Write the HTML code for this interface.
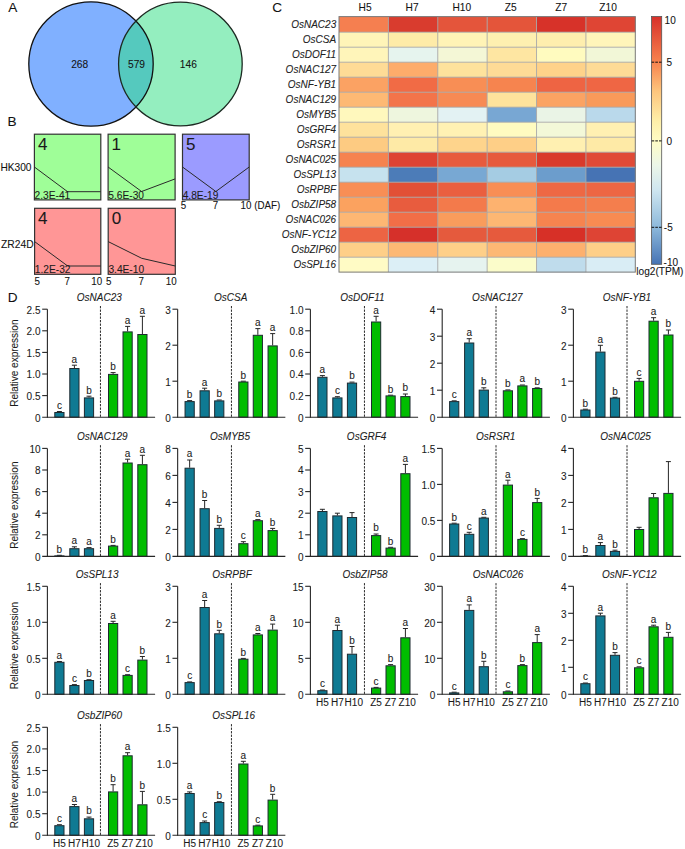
<!DOCTYPE html>
<html><head><meta charset="utf-8"><title>Figure</title>
<style>
html,body{margin:0;padding:0;background:#fff;}
body{width:685px;height:849px;overflow:hidden;}
svg{display:block;font-family:"Liberation Sans", sans-serif;}
text{stroke:#222;stroke-width:0.08px;}
</style></head>
<body>
<svg width="685" height="849" viewBox="0 0 685 849">
<rect width="685" height="849" fill="#fff"/>
<text x="8.2" y="12.2" font-size="13.6" fill="#111">A</text>
<text x="7.6" y="125.6" font-size="13.6" fill="#111">B</text>
<text x="272.3" y="12.3" font-size="13.6" fill="#111">C</text>
<text x="7.8" y="302.4" font-size="13.6" fill="#111">D</text>
<circle cx="91" cy="64" r="62.2" fill="#80b0ff"/>
<circle cx="180.4" cy="64" r="61.8" fill="#94eebf"/>
<clipPath id="cl"><circle cx="91" cy="64" r="62.2"/></clipPath>
<circle cx="180.4" cy="64" r="61.8" fill="#55c9be" clip-path="url(#cl)"/>
<circle cx="91" cy="64" r="62.2" fill="none" stroke="#111" stroke-width="1.3"/>
<circle cx="180.4" cy="64" r="61.8" fill="none" stroke="#1c2a22" stroke-width="1.3"/>
<text x="79.7" y="68.1" font-size="10.2" text-anchor="middle" fill="#111">268</text>
<text x="136.5" y="68.1" font-size="10.2" text-anchor="middle" fill="#111">579</text>
<text x="188.3" y="68.1" font-size="10.2" text-anchor="middle" fill="#111">146</text>
<rect x="34.4" y="134.2" width="66.4" height="65.7" fill="#9ffe98" stroke="#333" stroke-width="1.2"/>
<polyline points="34.4,167 67.6,191.7 100.8,191.7" fill="none" stroke="#2a2a2a" stroke-width="1"/>
<text x="37.9" y="149.5" font-size="17" fill="#1a1a1a">4</text>
<text x="34.6" y="198.8" font-size="10.2" fill="#1a1a1a">2.3E-41</text>
<rect x="108.1" y="134.2" width="67" height="65.7" fill="#9ffe98" stroke="#333" stroke-width="1.2"/>
<polyline points="108.1,167 141.6,191.5 175.1,178.9" fill="none" stroke="#2a2a2a" stroke-width="1"/>
<text x="111.6" y="149.5" font-size="17" fill="#1a1a1a">1</text>
<text x="108.3" y="198.8" font-size="10.2" fill="#1a1a1a">5.6E-30</text>
<rect x="182.5" y="134.2" width="66.7" height="65.7" fill="#9b9bff" stroke="#333" stroke-width="1.2"/>
<polyline points="182.5,167 215.85,191.5 249.2,167" fill="none" stroke="#2a2a2a" stroke-width="1"/>
<text x="186" y="149.5" font-size="17" fill="#1a1a1a">5</text>
<text x="182.7" y="198.8" font-size="10.2" fill="#1a1a1a">4.8E-19</text>
<rect x="34.6" y="208.3" width="66.2" height="66" fill="#ff9696" stroke="#333" stroke-width="1.2"/>
<polyline points="34.6,241.6 67.7,266 100.8,266" fill="none" stroke="#2a2a2a" stroke-width="1"/>
<text x="38.1" y="223.6" font-size="17" fill="#1a1a1a">4</text>
<text x="34.8" y="273.2" font-size="10.2" fill="#1a1a1a">1.2E-32</text>
<rect x="108.2" y="208.3" width="67.1" height="66" fill="#ff9696" stroke="#333" stroke-width="1.2"/>
<polyline points="108.2,241.6 141.75,258.3 175.3,266" fill="none" stroke="#2a2a2a" stroke-width="1"/>
<text x="111.7" y="223.6" font-size="17" fill="#1a1a1a">0</text>
<text x="108.4" y="273.2" font-size="10.2" fill="#1a1a1a">3.4E-10</text>
<text x="0.4" y="170.7" font-size="10.2" fill="#111">HK300</text>
<text x="1.0" y="247.6" font-size="10.3" fill="#111">ZR24D</text>
<text transform="translate(180.8,209.3) scale(1,1.18)" font-size="9.8" fill="#111">5</text>
<text transform="translate(212.7,209.3) scale(1,1.18)" font-size="9.8" fill="#111">7</text>
<text transform="translate(240.6,209.3) scale(1,1.18)" font-size="9.8" fill="#111">10 (DAF)</text>
<text transform="translate(34.4,284.8) scale(1,1.18)" font-size="9.8" fill="#111">5</text>
<text transform="translate(64.5,284.8) scale(1,1.18)" font-size="9.8" fill="#111">7</text>
<text transform="translate(91.3,284.8) scale(1,1.18)" font-size="9.8" fill="#111">10</text>
<text transform="translate(106.0,284.8) scale(1,1.18)" font-size="9.8" fill="#111">5</text>
<text transform="translate(138.6,284.8) scale(1,1.18)" font-size="9.8" fill="#111">7</text>
<text transform="translate(165.8,284.8) scale(1,1.18)" font-size="9.8" fill="#111">10</text>
<rect x="339" y="16.6" width="49.68" height="15.9" fill="#f57f50"/>
<rect x="388.38" y="16.6" width="49.68" height="15.9" fill="#d93c2e"/>
<rect x="437.77" y="16.6" width="49.68" height="15.9" fill="#e4553b"/>
<rect x="487.15" y="16.6" width="49.68" height="15.9" fill="#e4553a"/>
<rect x="536.53" y="16.6" width="49.68" height="15.9" fill="#d73229"/>
<rect x="585.92" y="16.6" width="49.68" height="15.9" fill="#df4534"/>
<rect x="339" y="32.2" width="49.68" height="15.3" fill="#fff4b8"/>
<rect x="388.38" y="32.2" width="49.68" height="15.3" fill="#feeba8"/>
<rect x="437.77" y="32.2" width="49.68" height="15.3" fill="#fff3b6"/>
<rect x="487.15" y="32.2" width="49.68" height="15.3" fill="#fef0b0"/>
<rect x="536.53" y="32.2" width="49.68" height="15.3" fill="#feeeae"/>
<rect x="585.92" y="32.2" width="49.68" height="15.3" fill="#fff5ba"/>
<rect x="339" y="47.2" width="49.68" height="15.3" fill="#fff5ba"/>
<rect x="388.38" y="47.2" width="49.68" height="15.3" fill="#e6f4ee"/>
<rect x="437.77" y="47.2" width="49.68" height="15.3" fill="#f4f7d6"/>
<rect x="487.15" y="47.2" width="49.68" height="15.3" fill="#fee6a2"/>
<rect x="536.53" y="47.2" width="49.68" height="15.3" fill="#fffbbf"/>
<rect x="585.92" y="47.2" width="49.68" height="15.3" fill="#f2f7d7"/>
<rect x="339" y="62.2" width="49.68" height="15.3" fill="#fedb96"/>
<rect x="388.38" y="62.2" width="49.68" height="15.3" fill="#fdac6b"/>
<rect x="437.77" y="62.2" width="49.68" height="15.3" fill="#fee29c"/>
<rect x="487.15" y="62.2" width="49.68" height="15.3" fill="#fedb96"/>
<rect x="536.53" y="62.2" width="49.68" height="15.3" fill="#fed28a"/>
<rect x="585.92" y="62.2" width="49.68" height="15.3" fill="#fedb96"/>
<rect x="339" y="77.2" width="49.68" height="15.3" fill="#fba263"/>
<rect x="388.38" y="77.2" width="49.68" height="15.3" fill="#f16b45"/>
<rect x="437.77" y="77.2" width="49.68" height="15.3" fill="#f88e55"/>
<rect x="487.15" y="77.2" width="49.68" height="15.3" fill="#f6844f"/>
<rect x="536.53" y="77.2" width="49.68" height="15.3" fill="#ee6443"/>
<rect x="585.92" y="77.2" width="49.68" height="15.3" fill="#ef6644"/>
<rect x="339" y="92.2" width="49.68" height="15.3" fill="#fdb974"/>
<rect x="388.38" y="92.2" width="49.68" height="15.3" fill="#f3744a"/>
<rect x="437.77" y="92.2" width="49.68" height="15.3" fill="#f78a54"/>
<rect x="487.15" y="92.2" width="49.68" height="15.3" fill="#fee39c"/>
<rect x="536.53" y="92.2" width="49.68" height="15.3" fill="#fba363"/>
<rect x="585.92" y="92.2" width="49.68" height="15.3" fill="#f99a5a"/>
<rect x="339" y="107.2" width="49.68" height="15.3" fill="#fff8bd"/>
<rect x="388.38" y="107.2" width="49.68" height="15.3" fill="#eef6de"/>
<rect x="437.77" y="107.2" width="49.68" height="15.3" fill="#e3f2f3"/>
<rect x="487.15" y="107.2" width="49.68" height="15.3" fill="#78a7d3"/>
<rect x="536.53" y="107.2" width="49.68" height="15.3" fill="#eaf4e6"/>
<rect x="585.92" y="107.2" width="49.68" height="15.3" fill="#bad9eb"/>
<rect x="339" y="122.2" width="49.68" height="15.3" fill="#fee29c"/>
<rect x="388.38" y="122.2" width="49.68" height="15.3" fill="#fff0b2"/>
<rect x="437.77" y="122.2" width="49.68" height="15.3" fill="#fff1b3"/>
<rect x="487.15" y="122.2" width="49.68" height="15.3" fill="#fffbc0"/>
<rect x="536.53" y="122.2" width="49.68" height="15.3" fill="#f3f8d8"/>
<rect x="585.92" y="122.2" width="49.68" height="15.3" fill="#fff0b2"/>
<rect x="339" y="137.2" width="49.68" height="15.3" fill="#fdcb82"/>
<rect x="388.38" y="137.2" width="49.68" height="15.3" fill="#feeaa6"/>
<rect x="437.77" y="137.2" width="49.68" height="15.3" fill="#fed48c"/>
<rect x="487.15" y="137.2" width="49.68" height="15.3" fill="#fecf87"/>
<rect x="536.53" y="137.2" width="49.68" height="15.3" fill="#fff0b1"/>
<rect x="585.92" y="137.2" width="49.68" height="15.3" fill="#feeaa6"/>
<rect x="339" y="152.2" width="49.68" height="15.3" fill="#f6834f"/>
<rect x="388.38" y="152.2" width="49.68" height="15.3" fill="#de4333"/>
<rect x="437.77" y="152.2" width="49.68" height="15.3" fill="#e75b3d"/>
<rect x="487.15" y="152.2" width="49.68" height="15.3" fill="#e65a3d"/>
<rect x="536.53" y="152.2" width="49.68" height="15.3" fill="#d93a2b"/>
<rect x="585.92" y="152.2" width="49.68" height="15.3" fill="#e04a36"/>
<rect x="339" y="167.2" width="49.68" height="15.3" fill="#c6e2ee"/>
<rect x="388.38" y="167.2" width="49.68" height="15.3" fill="#4c7cb8"/>
<rect x="437.77" y="167.2" width="49.68" height="15.3" fill="#78a8d3"/>
<rect x="487.15" y="167.2" width="49.68" height="15.3" fill="#a5cce3"/>
<rect x="536.53" y="167.2" width="49.68" height="15.3" fill="#6c9dcc"/>
<rect x="585.92" y="167.2" width="49.68" height="15.3" fill="#4673b4"/>
<rect x="339" y="182.2" width="49.68" height="15.3" fill="#f88e55"/>
<rect x="388.38" y="182.2" width="49.68" height="15.3" fill="#e25036"/>
<rect x="437.77" y="182.2" width="49.68" height="15.3" fill="#ea5f3f"/>
<rect x="487.15" y="182.2" width="49.68" height="15.3" fill="#f88e55"/>
<rect x="536.53" y="182.2" width="49.68" height="15.3" fill="#ee6844"/>
<rect x="585.92" y="182.2" width="49.68" height="15.3" fill="#ed6643"/>
<rect x="339" y="197.2" width="49.68" height="15.3" fill="#fba25f"/>
<rect x="388.38" y="197.2" width="49.68" height="15.3" fill="#e85c3e"/>
<rect x="437.77" y="197.2" width="49.68" height="15.3" fill="#f37a4b"/>
<rect x="487.15" y="197.2" width="49.68" height="15.3" fill="#fdb26f"/>
<rect x="536.53" y="197.2" width="49.68" height="15.3" fill="#f47a4b"/>
<rect x="585.92" y="197.2" width="49.68" height="15.3" fill="#f47e4d"/>
<rect x="339" y="212.2" width="49.68" height="15.3" fill="#fdb773"/>
<rect x="388.38" y="212.2" width="49.68" height="15.3" fill="#f26e47"/>
<rect x="437.77" y="212.2" width="49.68" height="15.3" fill="#f99c5c"/>
<rect x="487.15" y="212.2" width="49.68" height="15.3" fill="#fdb773"/>
<rect x="536.53" y="212.2" width="49.68" height="15.3" fill="#f6844f"/>
<rect x="585.92" y="212.2" width="49.68" height="15.3" fill="#f88b52"/>
<rect x="339" y="227.2" width="49.68" height="15.3" fill="#ed6443"/>
<rect x="388.38" y="227.2" width="49.68" height="15.3" fill="#d6302a"/>
<rect x="437.77" y="227.2" width="49.68" height="15.3" fill="#e55a3d"/>
<rect x="487.15" y="227.2" width="49.68" height="15.3" fill="#e65a3d"/>
<rect x="536.53" y="227.2" width="49.68" height="15.3" fill="#d73027"/>
<rect x="585.92" y="227.2" width="49.68" height="15.3" fill="#de4434"/>
<rect x="339" y="242.2" width="49.68" height="15.3" fill="#fecf88"/>
<rect x="388.38" y="242.2" width="49.68" height="15.3" fill="#fdb874"/>
<rect x="437.77" y="242.2" width="49.68" height="15.3" fill="#fecf88"/>
<rect x="487.15" y="242.2" width="49.68" height="15.3" fill="#fdb874"/>
<rect x="536.53" y="242.2" width="49.68" height="15.3" fill="#fdb06e"/>
<rect x="585.92" y="242.2" width="49.68" height="15.3" fill="#fecf88"/>
<rect x="339" y="257.2" width="49.68" height="15.2" fill="#fffbc5"/>
<rect x="388.38" y="257.2" width="49.68" height="15.2" fill="#dceff6"/>
<rect x="437.77" y="257.2" width="49.68" height="15.2" fill="#e6f3ef"/>
<rect x="487.15" y="257.2" width="49.68" height="15.2" fill="#fbfcca"/>
<rect x="536.53" y="257.2" width="49.68" height="15.2" fill="#bfdcec"/>
<rect x="585.92" y="257.2" width="49.68" height="15.2" fill="#d9edf5"/>
<line x1="388.38" y1="16.6" x2="388.38" y2="272.1" stroke="#a8a8a8" stroke-width="0.9"/>
<line x1="437.77" y1="16.6" x2="437.77" y2="272.1" stroke="#a8a8a8" stroke-width="0.9"/>
<line x1="487.15" y1="16.6" x2="487.15" y2="272.1" stroke="#a8a8a8" stroke-width="0.9"/>
<line x1="536.53" y1="16.6" x2="536.53" y2="272.1" stroke="#a8a8a8" stroke-width="0.9"/>
<line x1="585.92" y1="16.6" x2="585.92" y2="272.1" stroke="#a8a8a8" stroke-width="0.9"/>
<line x1="339.0" y1="32.2" x2="635.3" y2="32.2" stroke="#a8a8a8" stroke-width="0.9"/>
<line x1="339.0" y1="47.2" x2="635.3" y2="47.2" stroke="#a8a8a8" stroke-width="0.9"/>
<line x1="339.0" y1="62.2" x2="635.3" y2="62.2" stroke="#a8a8a8" stroke-width="0.9"/>
<line x1="339.0" y1="77.2" x2="635.3" y2="77.2" stroke="#a8a8a8" stroke-width="0.9"/>
<line x1="339.0" y1="92.2" x2="635.3" y2="92.2" stroke="#a8a8a8" stroke-width="0.9"/>
<line x1="339.0" y1="107.2" x2="635.3" y2="107.2" stroke="#a8a8a8" stroke-width="0.9"/>
<line x1="339.0" y1="122.2" x2="635.3" y2="122.2" stroke="#a8a8a8" stroke-width="0.9"/>
<line x1="339.0" y1="137.2" x2="635.3" y2="137.2" stroke="#a8a8a8" stroke-width="0.9"/>
<line x1="339.0" y1="152.2" x2="635.3" y2="152.2" stroke="#a8a8a8" stroke-width="0.9"/>
<line x1="339.0" y1="167.2" x2="635.3" y2="167.2" stroke="#a8a8a8" stroke-width="0.9"/>
<line x1="339.0" y1="182.2" x2="635.3" y2="182.2" stroke="#a8a8a8" stroke-width="0.9"/>
<line x1="339.0" y1="197.2" x2="635.3" y2="197.2" stroke="#a8a8a8" stroke-width="0.9"/>
<line x1="339.0" y1="212.2" x2="635.3" y2="212.2" stroke="#a8a8a8" stroke-width="0.9"/>
<line x1="339.0" y1="227.2" x2="635.3" y2="227.2" stroke="#a8a8a8" stroke-width="0.9"/>
<line x1="339.0" y1="242.2" x2="635.3" y2="242.2" stroke="#a8a8a8" stroke-width="0.9"/>
<line x1="339.0" y1="257.2" x2="635.3" y2="257.2" stroke="#a8a8a8" stroke-width="0.9"/>
<rect x="339.0" y="16.6" width="296.3" height="255.5" fill="none" stroke="#7a7a7a" stroke-width="1"/>
<text x="336.2" y="28.1" font-size="10" font-style="italic" text-anchor="end" fill="#222">OsNAC23</text>
<text x="336.2" y="43.4" font-size="10" font-style="italic" text-anchor="end" fill="#222">OsCSA</text>
<text x="336.2" y="58.4" font-size="10" font-style="italic" text-anchor="end" fill="#222">OsDOF11</text>
<text x="336.2" y="73.4" font-size="10" font-style="italic" text-anchor="end" fill="#222">OsNAC127</text>
<text x="336.2" y="88.4" font-size="10" font-style="italic" text-anchor="end" fill="#222">OsNF-YB1</text>
<text x="336.2" y="103.4" font-size="10" font-style="italic" text-anchor="end" fill="#222">OsNAC129</text>
<text x="336.2" y="118.4" font-size="10" font-style="italic" text-anchor="end" fill="#222">OsMYB5</text>
<text x="336.2" y="133.4" font-size="10" font-style="italic" text-anchor="end" fill="#222">OsGRF4</text>
<text x="336.2" y="148.4" font-size="10" font-style="italic" text-anchor="end" fill="#222">OsRSR1</text>
<text x="336.2" y="163.4" font-size="10" font-style="italic" text-anchor="end" fill="#222">OsNAC025</text>
<text x="336.2" y="178.4" font-size="10" font-style="italic" text-anchor="end" fill="#222">OsSPL13</text>
<text x="336.2" y="193.4" font-size="10" font-style="italic" text-anchor="end" fill="#222">OsRPBF</text>
<text x="336.2" y="208.4" font-size="10" font-style="italic" text-anchor="end" fill="#222">OsbZIP58</text>
<text x="336.2" y="223.4" font-size="10" font-style="italic" text-anchor="end" fill="#222">OsNAC026</text>
<text x="336.2" y="238.4" font-size="10" font-style="italic" text-anchor="end" fill="#222">OsNF-YC12</text>
<text x="336.2" y="253.4" font-size="10" font-style="italic" text-anchor="end" fill="#222">OsbZIP60</text>
<text x="336.2" y="268.35" font-size="10" font-style="italic" text-anchor="end" fill="#222">OsSPL16</text>
<text x="365.09" y="11.0" font-size="10.2" text-anchor="middle" fill="#111">H5</text>
<text x="412.07" y="11.0" font-size="10.2" text-anchor="middle" fill="#111">H7</text>
<text x="461.76" y="11.0" font-size="10.2" text-anchor="middle" fill="#111">H10</text>
<text x="510.74" y="11.0" font-size="10.2" text-anchor="middle" fill="#111">Z5</text>
<text x="561.22" y="11.0" font-size="10.2" text-anchor="middle" fill="#111">Z7</text>
<text x="608.11" y="11.0" font-size="10.2" text-anchor="middle" fill="#111">Z10</text>
<linearGradient id="cb" x1="0" y1="16.5" x2="0" y2="264.3" gradientUnits="userSpaceOnUse"><stop offset="0" stop-color="#d7302a"/><stop offset="0.183" stop-color="#f7824e"/><stop offset="0.30" stop-color="#fdc47c"/><stop offset="0.42" stop-color="#feeea8"/><stop offset="0.50" stop-color="#fffcc4"/><stop offset="0.60" stop-color="#ecf6e8"/><stop offset="0.70" stop-color="#cfe6f0"/><stop offset="0.85" stop-color="#8db9db"/><stop offset="1" stop-color="#4673b4"/></linearGradient>
<rect x="651.6" y="16.5" width="10.1" height="247.8" fill="url(#cb)" stroke="#555" stroke-width="0.8"/>
<line x1="651.6" y1="62.2" x2="661.7" y2="62.2" stroke="#111" stroke-width="1" stroke-dasharray="2.6,1.1"/>
<line x1="651.6" y1="140.9" x2="661.7" y2="140.9" stroke="#111" stroke-width="1" stroke-dasharray="2.6,1.1"/>
<line x1="651.6" y1="227.3" x2="661.7" y2="227.3" stroke="#111" stroke-width="1" stroke-dasharray="2.6,1.1"/>
<text x="664.6" y="24" font-size="10" fill="#111">10</text>
<text x="666.6" y="66.2" font-size="10" fill="#111">5</text>
<text x="666.6" y="144.9" font-size="10" fill="#111">0</text>
<text x="663.8" y="231.2" font-size="10" fill="#111">-5</text>
<text x="663.6" y="266" font-size="10" fill="#111">-10</text>
<text x="636.3" y="274.9" font-size="10.1" fill="#111">log2(TPM)</text>
<line x1="56.9" y1="411.5" x2="61.9" y2="411.5" stroke="#262626" stroke-width="1"/>
<rect x="54.8" y="412.5" width="9.2" height="4.7" fill="#0f7a93" stroke="#1d2a30" stroke-width="1"/>
<text x="59.4" y="408.8" font-size="10" text-anchor="middle" fill="#1a1a1a">c</text>
<line x1="74.4" y1="368" x2="74.4" y2="365.2" stroke="#262626" stroke-width="1"/>
<line x1="71.9" y1="365.2" x2="76.9" y2="365.2" stroke="#262626" stroke-width="1"/>
<rect x="69.8" y="368.5" width="9.2" height="48.7" fill="#0f7a93" stroke="#1d2a30" stroke-width="1"/>
<text x="74.4" y="362.5" font-size="10" text-anchor="middle" fill="#1a1a1a">a</text>
<line x1="89" y1="397.4" x2="89" y2="396.2" stroke="#262626" stroke-width="1"/>
<line x1="86.5" y1="396.2" x2="91.5" y2="396.2" stroke="#262626" stroke-width="1"/>
<rect x="84.4" y="397.9" width="9.2" height="19.3" fill="#0f7a93" stroke="#1d2a30" stroke-width="1"/>
<text x="89" y="393.5" font-size="10" text-anchor="middle" fill="#1a1a1a">b</text>
<line x1="113.1" y1="373.9" x2="113.1" y2="372.6" stroke="#262626" stroke-width="1"/>
<line x1="110.6" y1="372.6" x2="115.6" y2="372.6" stroke="#262626" stroke-width="1"/>
<rect x="108.5" y="374.4" width="9.2" height="42.8" fill="#00bd00" stroke="#1d2a30" stroke-width="1"/>
<text x="113.1" y="369.9" font-size="10" text-anchor="middle" fill="#1a1a1a">b</text>
<line x1="127.6" y1="331.4" x2="127.6" y2="326.4" stroke="#262626" stroke-width="1"/>
<line x1="125.1" y1="326.4" x2="130.1" y2="326.4" stroke="#262626" stroke-width="1"/>
<rect x="123" y="331.9" width="9.2" height="85.3" fill="#00bd00" stroke="#1d2a30" stroke-width="1"/>
<text x="127.6" y="323.7" font-size="10" text-anchor="middle" fill="#1a1a1a">a</text>
<line x1="142.4" y1="334" x2="142.4" y2="316.3" stroke="#262626" stroke-width="1"/>
<line x1="139.9" y1="316.3" x2="144.9" y2="316.3" stroke="#262626" stroke-width="1"/>
<rect x="137.8" y="334.5" width="9.2" height="82.7" fill="#00bd00" stroke="#1d2a30" stroke-width="1"/>
<text x="142.4" y="313.6" font-size="10" text-anchor="middle" fill="#1a1a1a">a</text>
<line x1="100.45" y1="306" x2="100.45" y2="417.2" stroke="#2a2a2a" stroke-width="1" stroke-dasharray="2.3,1.2"/>
<line x1="47.4" y1="309.2" x2="47.4" y2="417.7" stroke="#262626" stroke-width="1.1"/>
<line x1="42.2" y1="417.2" x2="155.1" y2="417.2" stroke="#262626" stroke-width="1.1"/>
<text x="40.5" y="421.5" font-size="10" text-anchor="end" fill="#1a1a1a">0</text>
<line x1="42.2" y1="395.6" x2="47.4" y2="395.6" stroke="#262626" stroke-width="1.1"/>
<text x="40.5" y="399.9" font-size="10" text-anchor="end" fill="#1a1a1a">0.5</text>
<line x1="42.2" y1="374" x2="47.4" y2="374" stroke="#262626" stroke-width="1.1"/>
<text x="40.5" y="378.3" font-size="10" text-anchor="end" fill="#1a1a1a">1.0</text>
<line x1="42.2" y1="352.4" x2="47.4" y2="352.4" stroke="#262626" stroke-width="1.1"/>
<text x="40.5" y="356.7" font-size="10" text-anchor="end" fill="#1a1a1a">1.5</text>
<line x1="42.2" y1="330.8" x2="47.4" y2="330.8" stroke="#262626" stroke-width="1.1"/>
<text x="40.5" y="335.1" font-size="10" text-anchor="end" fill="#1a1a1a">2.0</text>
<line x1="42.2" y1="309.2" x2="47.4" y2="309.2" stroke="#262626" stroke-width="1.1"/>
<text x="40.5" y="313.5" font-size="10" text-anchor="end" fill="#1a1a1a">2.5</text>
<text x="99.3" y="300.6" font-size="10" font-style="italic" text-anchor="middle" fill="#1a1a1a">OsNAC23</text>
<text transform="translate(17.8,363.2) rotate(-90)" font-size="10" text-anchor="middle" fill="#1a1a1a">Relative expression</text>
<line x1="187.15" y1="400.6" x2="192.15" y2="400.6" stroke="#262626" stroke-width="1"/>
<rect x="185.05" y="401.6" width="9.2" height="15.6" fill="#0f7a93" stroke="#1d2a30" stroke-width="1"/>
<text x="189.65" y="397.9" font-size="10" text-anchor="middle" fill="#1a1a1a">b</text>
<line x1="204.65" y1="390.3" x2="204.65" y2="388.2" stroke="#262626" stroke-width="1"/>
<line x1="202.15" y1="388.2" x2="207.15" y2="388.2" stroke="#262626" stroke-width="1"/>
<rect x="200.05" y="390.8" width="9.2" height="26.4" fill="#0f7a93" stroke="#1d2a30" stroke-width="1"/>
<text x="204.65" y="385.5" font-size="10" text-anchor="middle" fill="#1a1a1a">a</text>
<line x1="216.75" y1="400" x2="221.75" y2="400" stroke="#262626" stroke-width="1"/>
<rect x="214.65" y="400.9" width="9.2" height="16.3" fill="#0f7a93" stroke="#1d2a30" stroke-width="1"/>
<text x="219.25" y="397.3" font-size="10" text-anchor="middle" fill="#1a1a1a">b</text>
<line x1="240.85" y1="381.2" x2="245.85" y2="381.2" stroke="#262626" stroke-width="1"/>
<rect x="238.75" y="382" width="9.2" height="35.2" fill="#00bd00" stroke="#1d2a30" stroke-width="1"/>
<text x="243.35" y="378.5" font-size="10" text-anchor="middle" fill="#1a1a1a">b</text>
<line x1="257.85" y1="334.8" x2="257.85" y2="328.6" stroke="#262626" stroke-width="1"/>
<line x1="255.35" y1="328.6" x2="260.35" y2="328.6" stroke="#262626" stroke-width="1"/>
<rect x="253.25" y="335.3" width="9.2" height="81.9" fill="#00bd00" stroke="#1d2a30" stroke-width="1"/>
<text x="257.85" y="325.9" font-size="10" text-anchor="middle" fill="#1a1a1a">a</text>
<line x1="272.65" y1="345.4" x2="272.65" y2="333.6" stroke="#262626" stroke-width="1"/>
<line x1="270.15" y1="333.6" x2="275.15" y2="333.6" stroke="#262626" stroke-width="1"/>
<rect x="268.05" y="345.9" width="9.2" height="71.3" fill="#00bd00" stroke="#1d2a30" stroke-width="1"/>
<text x="272.65" y="330.9" font-size="10" text-anchor="middle" fill="#1a1a1a">a</text>
<line x1="231.45" y1="306" x2="231.45" y2="417.2" stroke="#2a2a2a" stroke-width="1" stroke-dasharray="2.3,1.2"/>
<line x1="177.65" y1="309.2" x2="177.65" y2="417.7" stroke="#262626" stroke-width="1.1"/>
<line x1="172.45" y1="417.2" x2="285.35" y2="417.2" stroke="#262626" stroke-width="1.1"/>
<text x="170.75" y="421.5" font-size="10" text-anchor="end" fill="#1a1a1a">0</text>
<line x1="172.45" y1="381.2" x2="177.65" y2="381.2" stroke="#262626" stroke-width="1.1"/>
<text x="170.75" y="385.5" font-size="10" text-anchor="end" fill="#1a1a1a">1</text>
<line x1="172.45" y1="345.2" x2="177.65" y2="345.2" stroke="#262626" stroke-width="1.1"/>
<text x="170.75" y="349.5" font-size="10" text-anchor="end" fill="#1a1a1a">2</text>
<line x1="172.45" y1="309.2" x2="177.65" y2="309.2" stroke="#262626" stroke-width="1.1"/>
<text x="170.75" y="313.5" font-size="10" text-anchor="end" fill="#1a1a1a">3</text>
<text x="230.75" y="300.6" font-size="10" font-style="italic" text-anchor="middle" fill="#1a1a1a">OsCSA</text>
<line x1="322.4" y1="376.8" x2="322.4" y2="375.6" stroke="#262626" stroke-width="1"/>
<line x1="319.9" y1="375.6" x2="324.9" y2="375.6" stroke="#262626" stroke-width="1"/>
<rect x="317.8" y="377.3" width="9.2" height="39.9" fill="#0f7a93" stroke="#1d2a30" stroke-width="1"/>
<text x="322.4" y="372.9" font-size="10" text-anchor="middle" fill="#1a1a1a">a</text>
<line x1="337.4" y1="397.4" x2="337.4" y2="396.7" stroke="#262626" stroke-width="1"/>
<line x1="334.9" y1="396.7" x2="339.9" y2="396.7" stroke="#262626" stroke-width="1"/>
<rect x="332.8" y="397.9" width="9.2" height="19.3" fill="#0f7a93" stroke="#1d2a30" stroke-width="1"/>
<text x="337.4" y="394" font-size="10" text-anchor="middle" fill="#1a1a1a">c</text>
<line x1="349.5" y1="382.1" x2="354.5" y2="382.1" stroke="#262626" stroke-width="1"/>
<rect x="347.4" y="383.1" width="9.2" height="34.1" fill="#0f7a93" stroke="#1d2a30" stroke-width="1"/>
<text x="352" y="379.4" font-size="10" text-anchor="middle" fill="#1a1a1a">b</text>
<line x1="376.1" y1="321.5" x2="376.1" y2="316.3" stroke="#262626" stroke-width="1"/>
<line x1="373.6" y1="316.3" x2="378.6" y2="316.3" stroke="#262626" stroke-width="1"/>
<rect x="371.5" y="322" width="9.2" height="95.2" fill="#00bd00" stroke="#1d2a30" stroke-width="1"/>
<text x="376.1" y="313.6" font-size="10" text-anchor="middle" fill="#1a1a1a">a</text>
<line x1="388.1" y1="395.2" x2="393.1" y2="395.2" stroke="#262626" stroke-width="1"/>
<rect x="386" y="395.9" width="9.2" height="21.3" fill="#00bd00" stroke="#1d2a30" stroke-width="1"/>
<text x="390.6" y="392.5" font-size="10" text-anchor="middle" fill="#1a1a1a">b</text>
<line x1="405.4" y1="396.1" x2="405.4" y2="394" stroke="#262626" stroke-width="1"/>
<line x1="402.9" y1="394" x2="407.9" y2="394" stroke="#262626" stroke-width="1"/>
<rect x="400.8" y="396.6" width="9.2" height="20.6" fill="#00bd00" stroke="#1d2a30" stroke-width="1"/>
<text x="405.4" y="391.3" font-size="10" text-anchor="middle" fill="#1a1a1a">b</text>
<line x1="364.45" y1="306" x2="364.45" y2="417.2" stroke="#2a2a2a" stroke-width="1" stroke-dasharray="2.3,1.2"/>
<line x1="310.4" y1="309.2" x2="310.4" y2="417.7" stroke="#262626" stroke-width="1.1"/>
<line x1="305.2" y1="417.2" x2="418.1" y2="417.2" stroke="#262626" stroke-width="1.1"/>
<text x="303.5" y="421.5" font-size="10" text-anchor="end" fill="#1a1a1a">0</text>
<line x1="305.2" y1="395.6" x2="310.4" y2="395.6" stroke="#262626" stroke-width="1.1"/>
<text x="303.5" y="399.9" font-size="10" text-anchor="end" fill="#1a1a1a">0.2</text>
<line x1="305.2" y1="374" x2="310.4" y2="374" stroke="#262626" stroke-width="1.1"/>
<text x="303.5" y="378.3" font-size="10" text-anchor="end" fill="#1a1a1a">0.4</text>
<line x1="305.2" y1="352.4" x2="310.4" y2="352.4" stroke="#262626" stroke-width="1.1"/>
<text x="303.5" y="356.7" font-size="10" text-anchor="end" fill="#1a1a1a">0.6</text>
<line x1="305.2" y1="330.8" x2="310.4" y2="330.8" stroke="#262626" stroke-width="1.1"/>
<text x="303.5" y="335.1" font-size="10" text-anchor="end" fill="#1a1a1a">0.8</text>
<line x1="305.2" y1="309.2" x2="310.4" y2="309.2" stroke="#262626" stroke-width="1.1"/>
<text x="303.5" y="313.5" font-size="10" text-anchor="end" fill="#1a1a1a">1.0</text>
<text x="362.4" y="300.6" font-size="10" font-style="italic" text-anchor="middle" fill="#1a1a1a">OsDOF11</text>
<line x1="451.7" y1="400.8" x2="456.7" y2="400.8" stroke="#262626" stroke-width="1"/>
<rect x="449.6" y="401.6" width="9.2" height="15.6" fill="#0f7a93" stroke="#1d2a30" stroke-width="1"/>
<text x="454.2" y="398.1" font-size="10" text-anchor="middle" fill="#1a1a1a">c</text>
<line x1="469.2" y1="342.5" x2="469.2" y2="338.7" stroke="#262626" stroke-width="1"/>
<line x1="466.7" y1="338.7" x2="471.7" y2="338.7" stroke="#262626" stroke-width="1"/>
<rect x="464.6" y="343" width="9.2" height="74.2" fill="#0f7a93" stroke="#1d2a30" stroke-width="1"/>
<text x="469.2" y="336" font-size="10" text-anchor="middle" fill="#1a1a1a">a</text>
<line x1="483.8" y1="389.6" x2="483.8" y2="387.8" stroke="#262626" stroke-width="1"/>
<line x1="481.3" y1="387.8" x2="486.3" y2="387.8" stroke="#262626" stroke-width="1"/>
<rect x="479.2" y="390.1" width="9.2" height="27.1" fill="#0f7a93" stroke="#1d2a30" stroke-width="1"/>
<text x="483.8" y="385.1" font-size="10" text-anchor="middle" fill="#1a1a1a">b</text>
<line x1="505.4" y1="389.9" x2="510.4" y2="389.9" stroke="#262626" stroke-width="1"/>
<rect x="503.3" y="390.8" width="9.2" height="26.4" fill="#00bd00" stroke="#1d2a30" stroke-width="1"/>
<text x="507.9" y="387.2" font-size="10" text-anchor="middle" fill="#1a1a1a">b</text>
<line x1="519.9" y1="385" x2="524.9" y2="385" stroke="#262626" stroke-width="1"/>
<rect x="517.8" y="385.9" width="9.2" height="31.3" fill="#00bd00" stroke="#1d2a30" stroke-width="1"/>
<text x="522.4" y="382.3" font-size="10" text-anchor="middle" fill="#1a1a1a">a</text>
<line x1="534.7" y1="387.8" x2="539.7" y2="387.8" stroke="#262626" stroke-width="1"/>
<rect x="532.6" y="388.5" width="9.2" height="28.7" fill="#00bd00" stroke="#1d2a30" stroke-width="1"/>
<text x="537.2" y="385.1" font-size="10" text-anchor="middle" fill="#1a1a1a">b</text>
<line x1="496" y1="306" x2="496" y2="417.2" stroke="#2a2a2a" stroke-width="1" stroke-dasharray="2.3,1.2"/>
<line x1="442.2" y1="309.2" x2="442.2" y2="417.7" stroke="#262626" stroke-width="1.1"/>
<line x1="437" y1="417.2" x2="549.9" y2="417.2" stroke="#262626" stroke-width="1.1"/>
<text x="435.3" y="421.5" font-size="10" text-anchor="end" fill="#1a1a1a">0</text>
<line x1="437" y1="390.2" x2="442.2" y2="390.2" stroke="#262626" stroke-width="1.1"/>
<text x="435.3" y="394.5" font-size="10" text-anchor="end" fill="#1a1a1a">1</text>
<line x1="437" y1="363.2" x2="442.2" y2="363.2" stroke="#262626" stroke-width="1.1"/>
<text x="435.3" y="367.5" font-size="10" text-anchor="end" fill="#1a1a1a">2</text>
<line x1="437" y1="336.2" x2="442.2" y2="336.2" stroke="#262626" stroke-width="1.1"/>
<text x="435.3" y="340.5" font-size="10" text-anchor="end" fill="#1a1a1a">3</text>
<line x1="437" y1="309.2" x2="442.2" y2="309.2" stroke="#262626" stroke-width="1.1"/>
<text x="435.3" y="313.5" font-size="10" text-anchor="end" fill="#1a1a1a">4</text>
<text x="497.4" y="300.6" font-size="10" font-style="italic" text-anchor="middle" fill="#1a1a1a">OsNAC127</text>
<line x1="582.9" y1="409.2" x2="587.9" y2="409.2" stroke="#262626" stroke-width="1"/>
<rect x="580.8" y="410" width="9.2" height="7.2" fill="#0f7a93" stroke="#1d2a30" stroke-width="1"/>
<text x="585.4" y="406.5" font-size="10" text-anchor="middle" fill="#1a1a1a">b</text>
<line x1="600.4" y1="351.6" x2="600.4" y2="345.3" stroke="#262626" stroke-width="1"/>
<line x1="597.9" y1="345.3" x2="602.9" y2="345.3" stroke="#262626" stroke-width="1"/>
<rect x="595.8" y="352.1" width="9.2" height="65.1" fill="#0f7a93" stroke="#1d2a30" stroke-width="1"/>
<text x="600.4" y="342.6" font-size="10" text-anchor="middle" fill="#1a1a1a">a</text>
<line x1="612.5" y1="397.3" x2="617.5" y2="397.3" stroke="#262626" stroke-width="1"/>
<rect x="610.4" y="398.1" width="9.2" height="19.1" fill="#0f7a93" stroke="#1d2a30" stroke-width="1"/>
<text x="615" y="394.6" font-size="10" text-anchor="middle" fill="#1a1a1a">b</text>
<line x1="639.1" y1="380.8" x2="639.1" y2="378.4" stroke="#262626" stroke-width="1"/>
<line x1="636.6" y1="378.4" x2="641.6" y2="378.4" stroke="#262626" stroke-width="1"/>
<rect x="634.5" y="381.3" width="9.2" height="35.9" fill="#00bd00" stroke="#1d2a30" stroke-width="1"/>
<text x="639.1" y="375.7" font-size="10" text-anchor="middle" fill="#1a1a1a">c</text>
<line x1="653.6" y1="320.7" x2="653.6" y2="317.7" stroke="#262626" stroke-width="1"/>
<line x1="651.1" y1="317.7" x2="656.1" y2="317.7" stroke="#262626" stroke-width="1"/>
<rect x="649" y="321.2" width="9.2" height="96" fill="#00bd00" stroke="#1d2a30" stroke-width="1"/>
<text x="653.6" y="315" font-size="10" text-anchor="middle" fill="#1a1a1a">a</text>
<line x1="668.4" y1="334.5" x2="668.4" y2="330" stroke="#262626" stroke-width="1"/>
<line x1="665.9" y1="330" x2="670.9" y2="330" stroke="#262626" stroke-width="1"/>
<rect x="663.8" y="335" width="9.2" height="82.2" fill="#00bd00" stroke="#1d2a30" stroke-width="1"/>
<text x="668.4" y="327.3" font-size="10" text-anchor="middle" fill="#1a1a1a">b</text>
<line x1="627" y1="306" x2="627" y2="417.2" stroke="#2a2a2a" stroke-width="1" stroke-dasharray="2.3,1.2"/>
<line x1="573.4" y1="309.2" x2="573.4" y2="417.7" stroke="#262626" stroke-width="1.1"/>
<line x1="568.2" y1="417.2" x2="681.1" y2="417.2" stroke="#262626" stroke-width="1.1"/>
<text x="566.5" y="421.5" font-size="10" text-anchor="end" fill="#1a1a1a">0</text>
<line x1="568.2" y1="381.2" x2="573.4" y2="381.2" stroke="#262626" stroke-width="1.1"/>
<text x="566.5" y="385.5" font-size="10" text-anchor="end" fill="#1a1a1a">1</text>
<line x1="568.2" y1="345.2" x2="573.4" y2="345.2" stroke="#262626" stroke-width="1.1"/>
<text x="566.5" y="349.5" font-size="10" text-anchor="end" fill="#1a1a1a">2</text>
<line x1="568.2" y1="309.2" x2="573.4" y2="309.2" stroke="#262626" stroke-width="1.1"/>
<text x="566.5" y="313.5" font-size="10" text-anchor="end" fill="#1a1a1a">3</text>
<text x="627" y="300.6" font-size="10" font-style="italic" text-anchor="middle" fill="#1a1a1a">OsNF-YB1</text>
<line x1="56.9" y1="555.3" x2="61.9" y2="555.3" stroke="#262626" stroke-width="1"/>
<rect x="54.8" y="555.9" width="9.2" height="0.5" fill="#0f7a93" stroke="#1d2a30" stroke-width="1"/>
<text x="59.4" y="552.6" font-size="10" text-anchor="middle" fill="#1a1a1a">b</text>
<line x1="74.4" y1="548.2" x2="74.4" y2="546.8" stroke="#262626" stroke-width="1"/>
<line x1="71.9" y1="546.8" x2="76.9" y2="546.8" stroke="#262626" stroke-width="1"/>
<rect x="69.8" y="548.7" width="9.2" height="7.7" fill="#0f7a93" stroke="#1d2a30" stroke-width="1"/>
<text x="74.4" y="544.1" font-size="10" text-anchor="middle" fill="#1a1a1a">a</text>
<line x1="86.5" y1="547.6" x2="91.5" y2="547.6" stroke="#262626" stroke-width="1"/>
<rect x="84.4" y="548.7" width="9.2" height="7.7" fill="#0f7a93" stroke="#1d2a30" stroke-width="1"/>
<text x="89" y="544.9" font-size="10" text-anchor="middle" fill="#1a1a1a">a</text>
<line x1="110.6" y1="545.4" x2="115.6" y2="545.4" stroke="#262626" stroke-width="1"/>
<rect x="108.5" y="546.1" width="9.2" height="10.3" fill="#00bd00" stroke="#1d2a30" stroke-width="1"/>
<text x="113.1" y="542.7" font-size="10" text-anchor="middle" fill="#1a1a1a">b</text>
<line x1="127.6" y1="462.5" x2="127.6" y2="459.2" stroke="#262626" stroke-width="1"/>
<line x1="125.1" y1="459.2" x2="130.1" y2="459.2" stroke="#262626" stroke-width="1"/>
<rect x="123" y="463" width="9.2" height="93.4" fill="#00bd00" stroke="#1d2a30" stroke-width="1"/>
<text x="127.6" y="456.5" font-size="10" text-anchor="middle" fill="#1a1a1a">a</text>
<line x1="142.4" y1="464.2" x2="142.4" y2="455.3" stroke="#262626" stroke-width="1"/>
<line x1="139.9" y1="455.3" x2="144.9" y2="455.3" stroke="#262626" stroke-width="1"/>
<rect x="137.8" y="464.7" width="9.2" height="91.7" fill="#00bd00" stroke="#1d2a30" stroke-width="1"/>
<text x="142.4" y="452.6" font-size="10" text-anchor="middle" fill="#1a1a1a">a</text>
<line x1="100.45" y1="445.2" x2="100.45" y2="556.4" stroke="#2a2a2a" stroke-width="1" stroke-dasharray="2.3,1.2"/>
<line x1="47.4" y1="448.4" x2="47.4" y2="556.9" stroke="#262626" stroke-width="1.1"/>
<line x1="42.2" y1="556.4" x2="155.1" y2="556.4" stroke="#262626" stroke-width="1.1"/>
<text x="40.5" y="560.7" font-size="10" text-anchor="end" fill="#1a1a1a">0</text>
<line x1="42.2" y1="534.8" x2="47.4" y2="534.8" stroke="#262626" stroke-width="1.1"/>
<text x="40.5" y="539.1" font-size="10" text-anchor="end" fill="#1a1a1a">2</text>
<line x1="42.2" y1="513.2" x2="47.4" y2="513.2" stroke="#262626" stroke-width="1.1"/>
<text x="40.5" y="517.5" font-size="10" text-anchor="end" fill="#1a1a1a">4</text>
<line x1="42.2" y1="491.6" x2="47.4" y2="491.6" stroke="#262626" stroke-width="1.1"/>
<text x="40.5" y="495.9" font-size="10" text-anchor="end" fill="#1a1a1a">6</text>
<line x1="42.2" y1="470" x2="47.4" y2="470" stroke="#262626" stroke-width="1.1"/>
<text x="40.5" y="474.3" font-size="10" text-anchor="end" fill="#1a1a1a">8</text>
<line x1="42.2" y1="448.4" x2="47.4" y2="448.4" stroke="#262626" stroke-width="1.1"/>
<text x="40.5" y="452.7" font-size="10" text-anchor="end" fill="#1a1a1a">10</text>
<text x="102.3" y="439.8" font-size="10" font-style="italic" text-anchor="middle" fill="#1a1a1a">OsNAC129</text>
<text transform="translate(17.8,505.2) rotate(-90)" font-size="10" text-anchor="middle" fill="#1a1a1a">Relative expression</text>
<line x1="189.65" y1="467.7" x2="189.65" y2="460" stroke="#262626" stroke-width="1"/>
<line x1="187.15" y1="460" x2="192.15" y2="460" stroke="#262626" stroke-width="1"/>
<rect x="185.05" y="468.2" width="9.2" height="88.2" fill="#0f7a93" stroke="#1d2a30" stroke-width="1"/>
<text x="189.65" y="457.3" font-size="10" text-anchor="middle" fill="#1a1a1a">a</text>
<line x1="204.65" y1="508.2" x2="204.65" y2="500.5" stroke="#262626" stroke-width="1"/>
<line x1="202.15" y1="500.5" x2="207.15" y2="500.5" stroke="#262626" stroke-width="1"/>
<rect x="200.05" y="508.7" width="9.2" height="47.7" fill="#0f7a93" stroke="#1d2a30" stroke-width="1"/>
<text x="204.65" y="497.8" font-size="10" text-anchor="middle" fill="#1a1a1a">b</text>
<line x1="219.25" y1="527.9" x2="219.25" y2="525.3" stroke="#262626" stroke-width="1"/>
<line x1="216.75" y1="525.3" x2="221.75" y2="525.3" stroke="#262626" stroke-width="1"/>
<rect x="214.65" y="528.4" width="9.2" height="28" fill="#0f7a93" stroke="#1d2a30" stroke-width="1"/>
<text x="219.25" y="522.6" font-size="10" text-anchor="middle" fill="#1a1a1a">b</text>
<line x1="243.35" y1="543.2" x2="243.35" y2="541.7" stroke="#262626" stroke-width="1"/>
<line x1="240.85" y1="541.7" x2="245.85" y2="541.7" stroke="#262626" stroke-width="1"/>
<rect x="238.75" y="543.7" width="9.2" height="12.7" fill="#00bd00" stroke="#1d2a30" stroke-width="1"/>
<text x="243.35" y="539" font-size="10" text-anchor="middle" fill="#1a1a1a">c</text>
<line x1="255.35" y1="519.6" x2="260.35" y2="519.6" stroke="#262626" stroke-width="1"/>
<rect x="253.25" y="520.7" width="9.2" height="35.7" fill="#00bd00" stroke="#1d2a30" stroke-width="1"/>
<text x="257.85" y="516.9" font-size="10" text-anchor="middle" fill="#1a1a1a">a</text>
<line x1="272.65" y1="530.1" x2="272.65" y2="528.4" stroke="#262626" stroke-width="1"/>
<line x1="270.15" y1="528.4" x2="275.15" y2="528.4" stroke="#262626" stroke-width="1"/>
<rect x="268.05" y="530.6" width="9.2" height="25.8" fill="#00bd00" stroke="#1d2a30" stroke-width="1"/>
<text x="272.65" y="525.7" font-size="10" text-anchor="middle" fill="#1a1a1a">b</text>
<line x1="231.45" y1="445.2" x2="231.45" y2="556.4" stroke="#2a2a2a" stroke-width="1" stroke-dasharray="2.3,1.2"/>
<line x1="177.65" y1="448.4" x2="177.65" y2="556.9" stroke="#262626" stroke-width="1.1"/>
<line x1="172.45" y1="556.4" x2="285.35" y2="556.4" stroke="#262626" stroke-width="1.1"/>
<text x="170.75" y="560.7" font-size="10" text-anchor="end" fill="#1a1a1a">0</text>
<line x1="172.45" y1="529.4" x2="177.65" y2="529.4" stroke="#262626" stroke-width="1.1"/>
<text x="170.75" y="533.7" font-size="10" text-anchor="end" fill="#1a1a1a">2</text>
<line x1="172.45" y1="502.4" x2="177.65" y2="502.4" stroke="#262626" stroke-width="1.1"/>
<text x="170.75" y="506.7" font-size="10" text-anchor="end" fill="#1a1a1a">4</text>
<line x1="172.45" y1="475.4" x2="177.65" y2="475.4" stroke="#262626" stroke-width="1.1"/>
<text x="170.75" y="479.7" font-size="10" text-anchor="end" fill="#1a1a1a">6</text>
<line x1="172.45" y1="448.4" x2="177.65" y2="448.4" stroke="#262626" stroke-width="1.1"/>
<text x="170.75" y="452.7" font-size="10" text-anchor="end" fill="#1a1a1a">8</text>
<text x="230.05" y="439.8" font-size="10" font-style="italic" text-anchor="middle" fill="#1a1a1a">OsMYB5</text>
<line x1="322.4" y1="511" x2="322.4" y2="509.3" stroke="#262626" stroke-width="1"/>
<line x1="319.9" y1="509.3" x2="324.9" y2="509.3" stroke="#262626" stroke-width="1"/>
<rect x="317.8" y="511.5" width="9.2" height="44.9" fill="#0f7a93" stroke="#1d2a30" stroke-width="1"/>
<line x1="337.4" y1="515.4" x2="337.4" y2="513.2" stroke="#262626" stroke-width="1"/>
<line x1="334.9" y1="513.2" x2="339.9" y2="513.2" stroke="#262626" stroke-width="1"/>
<rect x="332.8" y="515.9" width="9.2" height="40.5" fill="#0f7a93" stroke="#1d2a30" stroke-width="1"/>
<line x1="352" y1="517" x2="352" y2="512.6" stroke="#262626" stroke-width="1"/>
<line x1="349.5" y1="512.6" x2="354.5" y2="512.6" stroke="#262626" stroke-width="1"/>
<rect x="347.4" y="517.5" width="9.2" height="38.9" fill="#0f7a93" stroke="#1d2a30" stroke-width="1"/>
<line x1="376.1" y1="535.1" x2="376.1" y2="534" stroke="#262626" stroke-width="1"/>
<line x1="373.6" y1="534" x2="378.6" y2="534" stroke="#262626" stroke-width="1"/>
<rect x="371.5" y="535.6" width="9.2" height="20.8" fill="#00bd00" stroke="#1d2a30" stroke-width="1"/>
<text x="376.1" y="531.3" font-size="10" text-anchor="middle" fill="#1a1a1a">b</text>
<line x1="388.1" y1="547.3" x2="393.1" y2="547.3" stroke="#262626" stroke-width="1"/>
<rect x="386" y="548.1" width="9.2" height="8.3" fill="#00bd00" stroke="#1d2a30" stroke-width="1"/>
<text x="390.6" y="544.6" font-size="10" text-anchor="middle" fill="#1a1a1a">b</text>
<line x1="405.4" y1="473.2" x2="405.4" y2="464.4" stroke="#262626" stroke-width="1"/>
<line x1="402.9" y1="464.4" x2="407.9" y2="464.4" stroke="#262626" stroke-width="1"/>
<rect x="400.8" y="473.7" width="9.2" height="82.7" fill="#00bd00" stroke="#1d2a30" stroke-width="1"/>
<text x="405.4" y="461.7" font-size="10" text-anchor="middle" fill="#1a1a1a">a</text>
<line x1="364.45" y1="445.2" x2="364.45" y2="556.4" stroke="#2a2a2a" stroke-width="1" stroke-dasharray="2.3,1.2"/>
<line x1="310.4" y1="448.4" x2="310.4" y2="556.9" stroke="#262626" stroke-width="1.1"/>
<line x1="305.2" y1="556.4" x2="418.1" y2="556.4" stroke="#262626" stroke-width="1.1"/>
<text x="303.5" y="560.7" font-size="10" text-anchor="end" fill="#1a1a1a">0</text>
<line x1="305.2" y1="534.8" x2="310.4" y2="534.8" stroke="#262626" stroke-width="1.1"/>
<text x="303.5" y="539.1" font-size="10" text-anchor="end" fill="#1a1a1a">1</text>
<line x1="305.2" y1="513.2" x2="310.4" y2="513.2" stroke="#262626" stroke-width="1.1"/>
<text x="303.5" y="517.5" font-size="10" text-anchor="end" fill="#1a1a1a">2</text>
<line x1="305.2" y1="491.6" x2="310.4" y2="491.6" stroke="#262626" stroke-width="1.1"/>
<text x="303.5" y="495.9" font-size="10" text-anchor="end" fill="#1a1a1a">3</text>
<line x1="305.2" y1="470" x2="310.4" y2="470" stroke="#262626" stroke-width="1.1"/>
<text x="303.5" y="474.3" font-size="10" text-anchor="end" fill="#1a1a1a">4</text>
<line x1="305.2" y1="448.4" x2="310.4" y2="448.4" stroke="#262626" stroke-width="1.1"/>
<text x="303.5" y="452.7" font-size="10" text-anchor="end" fill="#1a1a1a">5</text>
<text x="366.6" y="439.8" font-size="10" font-style="italic" text-anchor="middle" fill="#1a1a1a">OsGRF4</text>
<line x1="451.7" y1="523.2" x2="456.7" y2="523.2" stroke="#262626" stroke-width="1"/>
<rect x="449.6" y="524" width="9.2" height="32.4" fill="#0f7a93" stroke="#1d2a30" stroke-width="1"/>
<text x="454.2" y="520.5" font-size="10" text-anchor="middle" fill="#1a1a1a">b</text>
<line x1="469.2" y1="533.8" x2="469.2" y2="532.3" stroke="#262626" stroke-width="1"/>
<line x1="466.7" y1="532.3" x2="471.7" y2="532.3" stroke="#262626" stroke-width="1"/>
<rect x="464.6" y="534.3" width="9.2" height="22.1" fill="#0f7a93" stroke="#1d2a30" stroke-width="1"/>
<text x="469.2" y="529.6" font-size="10" text-anchor="middle" fill="#1a1a1a">c</text>
<line x1="481.3" y1="517.3" x2="486.3" y2="517.3" stroke="#262626" stroke-width="1"/>
<rect x="479.2" y="518.1" width="9.2" height="38.3" fill="#0f7a93" stroke="#1d2a30" stroke-width="1"/>
<text x="483.8" y="514.6" font-size="10" text-anchor="middle" fill="#1a1a1a">a</text>
<line x1="507.9" y1="484.6" x2="507.9" y2="480.2" stroke="#262626" stroke-width="1"/>
<line x1="505.4" y1="480.2" x2="510.4" y2="480.2" stroke="#262626" stroke-width="1"/>
<rect x="503.3" y="485.1" width="9.2" height="71.3" fill="#00bd00" stroke="#1d2a30" stroke-width="1"/>
<text x="507.9" y="477.5" font-size="10" text-anchor="middle" fill="#1a1a1a">a</text>
<line x1="519.9" y1="538.6" x2="524.9" y2="538.6" stroke="#262626" stroke-width="1"/>
<rect x="517.8" y="539.4" width="9.2" height="17" fill="#00bd00" stroke="#1d2a30" stroke-width="1"/>
<text x="522.4" y="535.9" font-size="10" text-anchor="middle" fill="#1a1a1a">c</text>
<line x1="537.2" y1="502.1" x2="537.2" y2="498.4" stroke="#262626" stroke-width="1"/>
<line x1="534.7" y1="498.4" x2="539.7" y2="498.4" stroke="#262626" stroke-width="1"/>
<rect x="532.6" y="502.6" width="9.2" height="53.8" fill="#00bd00" stroke="#1d2a30" stroke-width="1"/>
<text x="537.2" y="495.7" font-size="10" text-anchor="middle" fill="#1a1a1a">b</text>
<line x1="496" y1="445.2" x2="496" y2="556.4" stroke="#2a2a2a" stroke-width="1" stroke-dasharray="2.3,1.2"/>
<line x1="442.2" y1="448.4" x2="442.2" y2="556.9" stroke="#262626" stroke-width="1.1"/>
<line x1="437" y1="556.4" x2="549.9" y2="556.4" stroke="#262626" stroke-width="1.1"/>
<text x="435.3" y="560.7" font-size="10" text-anchor="end" fill="#1a1a1a">0</text>
<line x1="437" y1="520.4" x2="442.2" y2="520.4" stroke="#262626" stroke-width="1.1"/>
<text x="435.3" y="524.7" font-size="10" text-anchor="end" fill="#1a1a1a">0.5</text>
<line x1="437" y1="484.4" x2="442.2" y2="484.4" stroke="#262626" stroke-width="1.1"/>
<text x="435.3" y="488.7" font-size="10" text-anchor="end" fill="#1a1a1a">1.0</text>
<line x1="437" y1="448.4" x2="442.2" y2="448.4" stroke="#262626" stroke-width="1.1"/>
<text x="435.3" y="452.7" font-size="10" text-anchor="end" fill="#1a1a1a">1.5</text>
<text x="495.7" y="439.8" font-size="10" font-style="italic" text-anchor="middle" fill="#1a1a1a">OsRSR1</text>
<line x1="582.9" y1="555.6" x2="587.9" y2="555.6" stroke="#262626" stroke-width="1"/>
<rect x="580.8" y="556.2" width="9.2" height="0.3" fill="#0f7a93" stroke="#1d2a30" stroke-width="1"/>
<text x="585.4" y="552.9" font-size="10" text-anchor="middle" fill="#1a1a1a">b</text>
<line x1="600.4" y1="545" x2="600.4" y2="542.6" stroke="#262626" stroke-width="1"/>
<line x1="597.9" y1="542.6" x2="602.9" y2="542.6" stroke="#262626" stroke-width="1"/>
<rect x="595.8" y="545.5" width="9.2" height="10.9" fill="#0f7a93" stroke="#1d2a30" stroke-width="1"/>
<text x="600.4" y="539.9" font-size="10" text-anchor="middle" fill="#1a1a1a">a</text>
<line x1="615" y1="550.9" x2="615" y2="550.2" stroke="#262626" stroke-width="1"/>
<line x1="612.5" y1="550.2" x2="617.5" y2="550.2" stroke="#262626" stroke-width="1"/>
<rect x="610.4" y="551.4" width="9.2" height="5" fill="#0f7a93" stroke="#1d2a30" stroke-width="1"/>
<text x="615" y="547.5" font-size="10" text-anchor="middle" fill="#1a1a1a">b</text>
<line x1="639.1" y1="529" x2="639.1" y2="527.3" stroke="#262626" stroke-width="1"/>
<line x1="636.6" y1="527.3" x2="641.6" y2="527.3" stroke="#262626" stroke-width="1"/>
<rect x="634.5" y="529.5" width="9.2" height="26.9" fill="#00bd00" stroke="#1d2a30" stroke-width="1"/>
<line x1="653.6" y1="497.3" x2="653.6" y2="493.5" stroke="#262626" stroke-width="1"/>
<line x1="651.1" y1="493.5" x2="656.1" y2="493.5" stroke="#262626" stroke-width="1"/>
<rect x="649" y="497.8" width="9.2" height="58.6" fill="#00bd00" stroke="#1d2a30" stroke-width="1"/>
<line x1="668.4" y1="492.9" x2="668.4" y2="461.6" stroke="#262626" stroke-width="1"/>
<line x1="665.9" y1="461.6" x2="670.9" y2="461.6" stroke="#262626" stroke-width="1"/>
<rect x="663.8" y="493.4" width="9.2" height="63" fill="#00bd00" stroke="#1d2a30" stroke-width="1"/>
<line x1="627" y1="445.2" x2="627" y2="556.4" stroke="#2a2a2a" stroke-width="1" stroke-dasharray="2.3,1.2"/>
<line x1="573.4" y1="448.4" x2="573.4" y2="556.9" stroke="#262626" stroke-width="1.1"/>
<line x1="568.2" y1="556.4" x2="681.1" y2="556.4" stroke="#262626" stroke-width="1.1"/>
<text x="566.5" y="560.7" font-size="10" text-anchor="end" fill="#1a1a1a">0</text>
<line x1="568.2" y1="529.4" x2="573.4" y2="529.4" stroke="#262626" stroke-width="1.1"/>
<text x="566.5" y="533.7" font-size="10" text-anchor="end" fill="#1a1a1a">1</text>
<line x1="568.2" y1="502.4" x2="573.4" y2="502.4" stroke="#262626" stroke-width="1.1"/>
<text x="566.5" y="506.7" font-size="10" text-anchor="end" fill="#1a1a1a">2</text>
<line x1="568.2" y1="475.4" x2="573.4" y2="475.4" stroke="#262626" stroke-width="1.1"/>
<text x="566.5" y="479.7" font-size="10" text-anchor="end" fill="#1a1a1a">3</text>
<line x1="568.2" y1="448.4" x2="573.4" y2="448.4" stroke="#262626" stroke-width="1.1"/>
<text x="566.5" y="452.7" font-size="10" text-anchor="end" fill="#1a1a1a">4</text>
<text x="625.6" y="439.8" font-size="10" font-style="italic" text-anchor="middle" fill="#1a1a1a">OsNAC025</text>
<line x1="56.9" y1="661.5" x2="61.9" y2="661.5" stroke="#262626" stroke-width="1"/>
<rect x="54.8" y="662.3" width="9.2" height="32" fill="#0f7a93" stroke="#1d2a30" stroke-width="1"/>
<text x="59.4" y="658.8" font-size="10" text-anchor="middle" fill="#1a1a1a">a</text>
<line x1="71.9" y1="684.6" x2="76.9" y2="684.6" stroke="#262626" stroke-width="1"/>
<rect x="69.8" y="685.5" width="9.2" height="8.8" fill="#0f7a93" stroke="#1d2a30" stroke-width="1"/>
<text x="74.4" y="681.9" font-size="10" text-anchor="middle" fill="#1a1a1a">c</text>
<line x1="86.5" y1="679.7" x2="91.5" y2="679.7" stroke="#262626" stroke-width="1"/>
<rect x="84.4" y="680.5" width="9.2" height="13.8" fill="#0f7a93" stroke="#1d2a30" stroke-width="1"/>
<text x="89" y="677" font-size="10" text-anchor="middle" fill="#1a1a1a">b</text>
<line x1="113.1" y1="623" x2="113.1" y2="621.3" stroke="#262626" stroke-width="1"/>
<line x1="110.6" y1="621.3" x2="115.6" y2="621.3" stroke="#262626" stroke-width="1"/>
<rect x="108.5" y="623.5" width="9.2" height="70.8" fill="#00bd00" stroke="#1d2a30" stroke-width="1"/>
<text x="113.1" y="618.6" font-size="10" text-anchor="middle" fill="#1a1a1a">a</text>
<line x1="125.1" y1="674.7" x2="130.1" y2="674.7" stroke="#262626" stroke-width="1"/>
<rect x="123" y="675.4" width="9.2" height="18.9" fill="#00bd00" stroke="#1d2a30" stroke-width="1"/>
<text x="127.6" y="672" font-size="10" text-anchor="middle" fill="#1a1a1a">c</text>
<line x1="142.4" y1="659.6" x2="142.4" y2="656.5" stroke="#262626" stroke-width="1"/>
<line x1="139.9" y1="656.5" x2="144.9" y2="656.5" stroke="#262626" stroke-width="1"/>
<rect x="137.8" y="660.1" width="9.2" height="34.2" fill="#00bd00" stroke="#1d2a30" stroke-width="1"/>
<text x="142.4" y="653.8" font-size="10" text-anchor="middle" fill="#1a1a1a">b</text>
<line x1="100.45" y1="583.1" x2="100.45" y2="694.3" stroke="#2a2a2a" stroke-width="1" stroke-dasharray="2.3,1.2"/>
<line x1="47.4" y1="586.3" x2="47.4" y2="694.8" stroke="#262626" stroke-width="1.1"/>
<line x1="42.2" y1="694.3" x2="155.1" y2="694.3" stroke="#262626" stroke-width="1.1"/>
<text x="40.5" y="698.6" font-size="10" text-anchor="end" fill="#1a1a1a">0</text>
<line x1="42.2" y1="658.3" x2="47.4" y2="658.3" stroke="#262626" stroke-width="1.1"/>
<text x="40.5" y="662.6" font-size="10" text-anchor="end" fill="#1a1a1a">0.5</text>
<line x1="42.2" y1="622.3" x2="47.4" y2="622.3" stroke="#262626" stroke-width="1.1"/>
<text x="40.5" y="626.6" font-size="10" text-anchor="end" fill="#1a1a1a">1.0</text>
<line x1="42.2" y1="586.3" x2="47.4" y2="586.3" stroke="#262626" stroke-width="1.1"/>
<text x="40.5" y="590.6" font-size="10" text-anchor="end" fill="#1a1a1a">1.5</text>
<text x="97.1" y="577.7" font-size="10" font-style="italic" text-anchor="middle" fill="#1a1a1a">OsSPL13</text>
<text transform="translate(17.8,645.7) rotate(-90)" font-size="10" text-anchor="middle" fill="#1a1a1a">Relative expression</text>
<line x1="187.15" y1="681.9" x2="192.15" y2="681.9" stroke="#262626" stroke-width="1"/>
<rect x="185.05" y="682.6" width="9.2" height="11.7" fill="#0f7a93" stroke="#1d2a30" stroke-width="1"/>
<text x="189.65" y="679.2" font-size="10" text-anchor="middle" fill="#1a1a1a">c</text>
<line x1="204.65" y1="607" x2="204.65" y2="600.5" stroke="#262626" stroke-width="1"/>
<line x1="202.15" y1="600.5" x2="207.15" y2="600.5" stroke="#262626" stroke-width="1"/>
<rect x="200.05" y="607.5" width="9.2" height="86.8" fill="#0f7a93" stroke="#1d2a30" stroke-width="1"/>
<text x="204.65" y="597.8" font-size="10" text-anchor="middle" fill="#1a1a1a">a</text>
<line x1="219.25" y1="633.3" x2="219.25" y2="630.3" stroke="#262626" stroke-width="1"/>
<line x1="216.75" y1="630.3" x2="221.75" y2="630.3" stroke="#262626" stroke-width="1"/>
<rect x="214.65" y="633.8" width="9.2" height="60.5" fill="#0f7a93" stroke="#1d2a30" stroke-width="1"/>
<text x="219.25" y="627.6" font-size="10" text-anchor="middle" fill="#1a1a1a">b</text>
<line x1="240.85" y1="658.4" x2="245.85" y2="658.4" stroke="#262626" stroke-width="1"/>
<rect x="238.75" y="659.2" width="9.2" height="35.1" fill="#00bd00" stroke="#1d2a30" stroke-width="1"/>
<text x="243.35" y="655.7" font-size="10" text-anchor="middle" fill="#1a1a1a">b</text>
<line x1="257.85" y1="634.4" x2="257.85" y2="633.5" stroke="#262626" stroke-width="1"/>
<line x1="255.35" y1="633.5" x2="260.35" y2="633.5" stroke="#262626" stroke-width="1"/>
<rect x="253.25" y="634.9" width="9.2" height="59.4" fill="#00bd00" stroke="#1d2a30" stroke-width="1"/>
<text x="257.85" y="630.8" font-size="10" text-anchor="middle" fill="#1a1a1a">a</text>
<line x1="272.65" y1="629.6" x2="272.65" y2="624.1" stroke="#262626" stroke-width="1"/>
<line x1="270.15" y1="624.1" x2="275.15" y2="624.1" stroke="#262626" stroke-width="1"/>
<rect x="268.05" y="630.1" width="9.2" height="64.2" fill="#00bd00" stroke="#1d2a30" stroke-width="1"/>
<text x="272.65" y="621.4" font-size="10" text-anchor="middle" fill="#1a1a1a">a</text>
<line x1="231.45" y1="583.1" x2="231.45" y2="694.3" stroke="#2a2a2a" stroke-width="1" stroke-dasharray="2.3,1.2"/>
<line x1="177.65" y1="586.3" x2="177.65" y2="694.8" stroke="#262626" stroke-width="1.1"/>
<line x1="172.45" y1="694.3" x2="285.35" y2="694.3" stroke="#262626" stroke-width="1.1"/>
<text x="170.75" y="698.6" font-size="10" text-anchor="end" fill="#1a1a1a">0</text>
<line x1="172.45" y1="658.3" x2="177.65" y2="658.3" stroke="#262626" stroke-width="1.1"/>
<text x="170.75" y="662.6" font-size="10" text-anchor="end" fill="#1a1a1a">1</text>
<line x1="172.45" y1="622.3" x2="177.65" y2="622.3" stroke="#262626" stroke-width="1.1"/>
<text x="170.75" y="626.6" font-size="10" text-anchor="end" fill="#1a1a1a">2</text>
<line x1="172.45" y1="586.3" x2="177.65" y2="586.3" stroke="#262626" stroke-width="1.1"/>
<text x="170.75" y="590.6" font-size="10" text-anchor="end" fill="#1a1a1a">3</text>
<text x="232.05" y="577.7" font-size="10" font-style="italic" text-anchor="middle" fill="#1a1a1a">OsRPBF</text>
<line x1="319.9" y1="690" x2="324.9" y2="690" stroke="#262626" stroke-width="1"/>
<rect x="317.8" y="690.7" width="9.2" height="3.6" fill="#0f7a93" stroke="#1d2a30" stroke-width="1"/>
<text x="322.4" y="687.3" font-size="10" text-anchor="middle" fill="#1a1a1a">c</text>
<line x1="337.4" y1="630" x2="337.4" y2="625.2" stroke="#262626" stroke-width="1"/>
<line x1="334.9" y1="625.2" x2="339.9" y2="625.2" stroke="#262626" stroke-width="1"/>
<rect x="332.8" y="630.5" width="9.2" height="63.8" fill="#0f7a93" stroke="#1d2a30" stroke-width="1"/>
<text x="337.4" y="622.5" font-size="10" text-anchor="middle" fill="#1a1a1a">a</text>
<line x1="352" y1="653.7" x2="352" y2="646.5" stroke="#262626" stroke-width="1"/>
<line x1="349.5" y1="646.5" x2="354.5" y2="646.5" stroke="#262626" stroke-width="1"/>
<rect x="347.4" y="654.2" width="9.2" height="40.1" fill="#0f7a93" stroke="#1d2a30" stroke-width="1"/>
<text x="352" y="643.8" font-size="10" text-anchor="middle" fill="#1a1a1a">b</text>
<line x1="373.6" y1="687.4" x2="378.6" y2="687.4" stroke="#262626" stroke-width="1"/>
<rect x="371.5" y="688.1" width="9.2" height="6.2" fill="#00bd00" stroke="#1d2a30" stroke-width="1"/>
<text x="376.1" y="684.7" font-size="10" text-anchor="middle" fill="#1a1a1a">c</text>
<line x1="390.6" y1="665.3" x2="390.6" y2="664.6" stroke="#262626" stroke-width="1"/>
<line x1="388.1" y1="664.6" x2="393.1" y2="664.6" stroke="#262626" stroke-width="1"/>
<rect x="386" y="665.8" width="9.2" height="28.5" fill="#00bd00" stroke="#1d2a30" stroke-width="1"/>
<text x="390.6" y="661.9" font-size="10" text-anchor="middle" fill="#1a1a1a">b</text>
<line x1="405.4" y1="637.3" x2="405.4" y2="628.5" stroke="#262626" stroke-width="1"/>
<line x1="402.9" y1="628.5" x2="407.9" y2="628.5" stroke="#262626" stroke-width="1"/>
<rect x="400.8" y="637.8" width="9.2" height="56.5" fill="#00bd00" stroke="#1d2a30" stroke-width="1"/>
<text x="405.4" y="625.8" font-size="10" text-anchor="middle" fill="#1a1a1a">a</text>
<line x1="364.45" y1="583.1" x2="364.45" y2="694.3" stroke="#2a2a2a" stroke-width="1" stroke-dasharray="2.3,1.2"/>
<line x1="310.4" y1="586.3" x2="310.4" y2="694.8" stroke="#262626" stroke-width="1.1"/>
<line x1="305.2" y1="694.3" x2="418.1" y2="694.3" stroke="#262626" stroke-width="1.1"/>
<text x="303.5" y="698.6" font-size="10" text-anchor="end" fill="#1a1a1a">0</text>
<line x1="305.2" y1="658.3" x2="310.4" y2="658.3" stroke="#262626" stroke-width="1.1"/>
<text x="303.5" y="662.6" font-size="10" text-anchor="end" fill="#1a1a1a">5</text>
<line x1="305.2" y1="622.3" x2="310.4" y2="622.3" stroke="#262626" stroke-width="1.1"/>
<text x="303.5" y="626.6" font-size="10" text-anchor="end" fill="#1a1a1a">10</text>
<line x1="305.2" y1="586.3" x2="310.4" y2="586.3" stroke="#262626" stroke-width="1.1"/>
<text x="303.5" y="590.6" font-size="10" text-anchor="end" fill="#1a1a1a">15</text>
<text x="365" y="577.7" font-size="10" font-style="italic" text-anchor="middle" fill="#1a1a1a">OsbZIP58</text>
<text x="322.4" y="706.1" font-size="10" text-anchor="middle" fill="#1a1a1a">H5</text>
<text x="337.4" y="706.1" font-size="10" text-anchor="middle" fill="#1a1a1a">H7</text>
<text x="353.8" y="706.1" font-size="10" text-anchor="middle" fill="#1a1a1a">H10</text>
<text x="376.1" y="706.1" font-size="10" text-anchor="middle" fill="#1a1a1a">Z5</text>
<text x="390.6" y="706.1" font-size="10" text-anchor="middle" fill="#1a1a1a">Z7</text>
<text x="407.2" y="706.1" font-size="10" text-anchor="middle" fill="#1a1a1a">Z10</text>
<line x1="451.7" y1="692.2" x2="456.7" y2="692.2" stroke="#262626" stroke-width="1"/>
<rect x="449.6" y="692.9" width="9.2" height="1.4" fill="#0f7a93" stroke="#1d2a30" stroke-width="1"/>
<text x="454.2" y="689.5" font-size="10" text-anchor="middle" fill="#1a1a1a">c</text>
<line x1="469.2" y1="609.9" x2="469.2" y2="604.9" stroke="#262626" stroke-width="1"/>
<line x1="466.7" y1="604.9" x2="471.7" y2="604.9" stroke="#262626" stroke-width="1"/>
<rect x="464.6" y="610.4" width="9.2" height="83.9" fill="#0f7a93" stroke="#1d2a30" stroke-width="1"/>
<text x="469.2" y="602.2" font-size="10" text-anchor="middle" fill="#1a1a1a">a</text>
<line x1="483.8" y1="666.2" x2="483.8" y2="661.3" stroke="#262626" stroke-width="1"/>
<line x1="481.3" y1="661.3" x2="486.3" y2="661.3" stroke="#262626" stroke-width="1"/>
<rect x="479.2" y="666.7" width="9.2" height="27.6" fill="#0f7a93" stroke="#1d2a30" stroke-width="1"/>
<text x="483.8" y="658.6" font-size="10" text-anchor="middle" fill="#1a1a1a">b</text>
<line x1="505.4" y1="691" x2="510.4" y2="691" stroke="#262626" stroke-width="1"/>
<rect x="503.3" y="691.8" width="9.2" height="2.5" fill="#00bd00" stroke="#1d2a30" stroke-width="1"/>
<text x="507.9" y="688.3" font-size="10" text-anchor="middle" fill="#1a1a1a">c</text>
<line x1="519.9" y1="664.6" x2="524.9" y2="664.6" stroke="#262626" stroke-width="1"/>
<rect x="517.8" y="665.6" width="9.2" height="28.7" fill="#00bd00" stroke="#1d2a30" stroke-width="1"/>
<text x="522.4" y="661.9" font-size="10" text-anchor="middle" fill="#1a1a1a">b</text>
<line x1="537.2" y1="642.1" x2="537.2" y2="634.6" stroke="#262626" stroke-width="1"/>
<line x1="534.7" y1="634.6" x2="539.7" y2="634.6" stroke="#262626" stroke-width="1"/>
<rect x="532.6" y="642.6" width="9.2" height="51.7" fill="#00bd00" stroke="#1d2a30" stroke-width="1"/>
<text x="537.2" y="631.9" font-size="10" text-anchor="middle" fill="#1a1a1a">a</text>
<line x1="496" y1="583.1" x2="496" y2="694.3" stroke="#2a2a2a" stroke-width="1" stroke-dasharray="2.3,1.2"/>
<line x1="442.2" y1="586.3" x2="442.2" y2="694.8" stroke="#262626" stroke-width="1.1"/>
<line x1="437" y1="694.3" x2="549.9" y2="694.3" stroke="#262626" stroke-width="1.1"/>
<text x="435.3" y="698.6" font-size="10" text-anchor="end" fill="#1a1a1a">0</text>
<line x1="437" y1="658.3" x2="442.2" y2="658.3" stroke="#262626" stroke-width="1.1"/>
<text x="435.3" y="662.6" font-size="10" text-anchor="end" fill="#1a1a1a">10</text>
<line x1="437" y1="622.3" x2="442.2" y2="622.3" stroke="#262626" stroke-width="1.1"/>
<text x="435.3" y="626.6" font-size="10" text-anchor="end" fill="#1a1a1a">20</text>
<line x1="437" y1="586.3" x2="442.2" y2="586.3" stroke="#262626" stroke-width="1.1"/>
<text x="435.3" y="590.6" font-size="10" text-anchor="end" fill="#1a1a1a">30</text>
<text x="498" y="577.7" font-size="10" font-style="italic" text-anchor="middle" fill="#1a1a1a">OsNAC026</text>
<text x="454.2" y="706.1" font-size="10" text-anchor="middle" fill="#1a1a1a">H5</text>
<text x="469.2" y="706.1" font-size="10" text-anchor="middle" fill="#1a1a1a">H7</text>
<text x="485.6" y="706.1" font-size="10" text-anchor="middle" fill="#1a1a1a">H10</text>
<text x="507.9" y="706.1" font-size="10" text-anchor="middle" fill="#1a1a1a">Z5</text>
<text x="522.4" y="706.1" font-size="10" text-anchor="middle" fill="#1a1a1a">Z7</text>
<text x="539" y="706.1" font-size="10" text-anchor="middle" fill="#1a1a1a">Z10</text>
<line x1="582.9" y1="683" x2="587.9" y2="683" stroke="#262626" stroke-width="1"/>
<rect x="580.8" y="683.7" width="9.2" height="10.6" fill="#0f7a93" stroke="#1d2a30" stroke-width="1"/>
<text x="585.4" y="680.3" font-size="10" text-anchor="middle" fill="#1a1a1a">c</text>
<line x1="600.4" y1="615.4" x2="600.4" y2="613.2" stroke="#262626" stroke-width="1"/>
<line x1="597.9" y1="613.2" x2="602.9" y2="613.2" stroke="#262626" stroke-width="1"/>
<rect x="595.8" y="615.9" width="9.2" height="78.4" fill="#0f7a93" stroke="#1d2a30" stroke-width="1"/>
<text x="600.4" y="610.5" font-size="10" text-anchor="middle" fill="#1a1a1a">a</text>
<line x1="615" y1="654.8" x2="615" y2="652.6" stroke="#262626" stroke-width="1"/>
<line x1="612.5" y1="652.6" x2="617.5" y2="652.6" stroke="#262626" stroke-width="1"/>
<rect x="610.4" y="655.3" width="9.2" height="39" fill="#0f7a93" stroke="#1d2a30" stroke-width="1"/>
<text x="615" y="649.9" font-size="10" text-anchor="middle" fill="#1a1a1a">b</text>
<line x1="636.6" y1="666.8" x2="641.6" y2="666.8" stroke="#262626" stroke-width="1"/>
<rect x="634.5" y="667.8" width="9.2" height="26.5" fill="#00bd00" stroke="#1d2a30" stroke-width="1"/>
<text x="639.1" y="664.1" font-size="10" text-anchor="middle" fill="#1a1a1a">c</text>
<line x1="653.6" y1="626.3" x2="653.6" y2="625.2" stroke="#262626" stroke-width="1"/>
<line x1="651.1" y1="625.2" x2="656.1" y2="625.2" stroke="#262626" stroke-width="1"/>
<rect x="649" y="626.8" width="9.2" height="67.5" fill="#00bd00" stroke="#1d2a30" stroke-width="1"/>
<text x="653.6" y="622.5" font-size="10" text-anchor="middle" fill="#1a1a1a">a</text>
<line x1="668.4" y1="636.8" x2="668.4" y2="632.4" stroke="#262626" stroke-width="1"/>
<line x1="665.9" y1="632.4" x2="670.9" y2="632.4" stroke="#262626" stroke-width="1"/>
<rect x="663.8" y="637.3" width="9.2" height="57" fill="#00bd00" stroke="#1d2a30" stroke-width="1"/>
<text x="668.4" y="629.7" font-size="10" text-anchor="middle" fill="#1a1a1a">b</text>
<line x1="627" y1="583.1" x2="627" y2="694.3" stroke="#2a2a2a" stroke-width="1" stroke-dasharray="2.3,1.2"/>
<line x1="573.4" y1="586.3" x2="573.4" y2="694.8" stroke="#262626" stroke-width="1.1"/>
<line x1="568.2" y1="694.3" x2="681.1" y2="694.3" stroke="#262626" stroke-width="1.1"/>
<text x="566.5" y="698.6" font-size="10" text-anchor="end" fill="#1a1a1a">0</text>
<line x1="568.2" y1="667.3" x2="573.4" y2="667.3" stroke="#262626" stroke-width="1.1"/>
<text x="566.5" y="671.6" font-size="10" text-anchor="end" fill="#1a1a1a">1</text>
<line x1="568.2" y1="640.3" x2="573.4" y2="640.3" stroke="#262626" stroke-width="1.1"/>
<text x="566.5" y="644.6" font-size="10" text-anchor="end" fill="#1a1a1a">2</text>
<line x1="568.2" y1="613.3" x2="573.4" y2="613.3" stroke="#262626" stroke-width="1.1"/>
<text x="566.5" y="617.6" font-size="10" text-anchor="end" fill="#1a1a1a">3</text>
<line x1="568.2" y1="586.3" x2="573.4" y2="586.3" stroke="#262626" stroke-width="1.1"/>
<text x="566.5" y="590.6" font-size="10" text-anchor="end" fill="#1a1a1a">4</text>
<text x="629.3" y="577.7" font-size="10" font-style="italic" text-anchor="middle" fill="#1a1a1a">OsNF-YC12</text>
<text x="585.4" y="706.1" font-size="10" text-anchor="middle" fill="#1a1a1a">H5</text>
<text x="600.4" y="706.1" font-size="10" text-anchor="middle" fill="#1a1a1a">H7</text>
<text x="616.8" y="706.1" font-size="10" text-anchor="middle" fill="#1a1a1a">H10</text>
<text x="639.1" y="706.1" font-size="10" text-anchor="middle" fill="#1a1a1a">Z5</text>
<text x="653.6" y="706.1" font-size="10" text-anchor="middle" fill="#1a1a1a">Z7</text>
<text x="670.2" y="706.1" font-size="10" text-anchor="middle" fill="#1a1a1a">Z10</text>
<line x1="56.9" y1="824.7" x2="61.9" y2="824.7" stroke="#262626" stroke-width="1"/>
<rect x="54.8" y="825.7" width="9.2" height="9.6" fill="#0f7a93" stroke="#1d2a30" stroke-width="1"/>
<text x="59.4" y="822" font-size="10" text-anchor="middle" fill="#1a1a1a">c</text>
<line x1="74.4" y1="806.1" x2="74.4" y2="804.5" stroke="#262626" stroke-width="1"/>
<line x1="71.9" y1="804.5" x2="76.9" y2="804.5" stroke="#262626" stroke-width="1"/>
<rect x="69.8" y="806.6" width="9.2" height="28.7" fill="#0f7a93" stroke="#1d2a30" stroke-width="1"/>
<text x="74.4" y="801.8" font-size="10" text-anchor="middle" fill="#1a1a1a">a</text>
<line x1="89" y1="818.3" x2="89" y2="817.1" stroke="#262626" stroke-width="1"/>
<line x1="86.5" y1="817.1" x2="91.5" y2="817.1" stroke="#262626" stroke-width="1"/>
<rect x="84.4" y="818.8" width="9.2" height="16.5" fill="#0f7a93" stroke="#1d2a30" stroke-width="1"/>
<text x="89" y="814.4" font-size="10" text-anchor="middle" fill="#1a1a1a">b</text>
<line x1="113.1" y1="791.4" x2="113.1" y2="784.7" stroke="#262626" stroke-width="1"/>
<line x1="110.6" y1="784.7" x2="115.6" y2="784.7" stroke="#262626" stroke-width="1"/>
<rect x="108.5" y="791.9" width="9.2" height="43.4" fill="#00bd00" stroke="#1d2a30" stroke-width="1"/>
<text x="113.1" y="782" font-size="10" text-anchor="middle" fill="#1a1a1a">b</text>
<line x1="127.6" y1="755.3" x2="127.6" y2="752.7" stroke="#262626" stroke-width="1"/>
<line x1="125.1" y1="752.7" x2="130.1" y2="752.7" stroke="#262626" stroke-width="1"/>
<rect x="123" y="755.8" width="9.2" height="79.5" fill="#00bd00" stroke="#1d2a30" stroke-width="1"/>
<text x="127.6" y="750" font-size="10" text-anchor="middle" fill="#1a1a1a">a</text>
<line x1="142.4" y1="804.3" x2="142.4" y2="791.4" stroke="#262626" stroke-width="1"/>
<line x1="139.9" y1="791.4" x2="144.9" y2="791.4" stroke="#262626" stroke-width="1"/>
<rect x="137.8" y="804.8" width="9.2" height="30.5" fill="#00bd00" stroke="#1d2a30" stroke-width="1"/>
<text x="142.4" y="788.7" font-size="10" text-anchor="middle" fill="#1a1a1a">b</text>
<line x1="100.45" y1="724.1" x2="100.45" y2="835.3" stroke="#2a2a2a" stroke-width="1" stroke-dasharray="2.3,1.2"/>
<line x1="47.4" y1="727.3" x2="47.4" y2="835.8" stroke="#262626" stroke-width="1.1"/>
<line x1="42.2" y1="835.3" x2="155.1" y2="835.3" stroke="#262626" stroke-width="1.1"/>
<text x="40.5" y="839.6" font-size="10" text-anchor="end" fill="#1a1a1a">0</text>
<line x1="42.2" y1="813.7" x2="47.4" y2="813.7" stroke="#262626" stroke-width="1.1"/>
<text x="40.5" y="818" font-size="10" text-anchor="end" fill="#1a1a1a">0.5</text>
<line x1="42.2" y1="792.1" x2="47.4" y2="792.1" stroke="#262626" stroke-width="1.1"/>
<text x="40.5" y="796.4" font-size="10" text-anchor="end" fill="#1a1a1a">1.0</text>
<line x1="42.2" y1="770.5" x2="47.4" y2="770.5" stroke="#262626" stroke-width="1.1"/>
<text x="40.5" y="774.8" font-size="10" text-anchor="end" fill="#1a1a1a">1.5</text>
<line x1="42.2" y1="748.9" x2="47.4" y2="748.9" stroke="#262626" stroke-width="1.1"/>
<text x="40.5" y="753.2" font-size="10" text-anchor="end" fill="#1a1a1a">2.0</text>
<line x1="42.2" y1="727.3" x2="47.4" y2="727.3" stroke="#262626" stroke-width="1.1"/>
<text x="40.5" y="731.6" font-size="10" text-anchor="end" fill="#1a1a1a">2.5</text>
<text x="99.6" y="718.7" font-size="10" font-style="italic" text-anchor="middle" fill="#1a1a1a">OsbZIP60</text>
<text transform="translate(17.8,784.6) rotate(-90)" font-size="10" text-anchor="middle" fill="#1a1a1a">Relative expression</text>
<text x="59.4" y="847.1" font-size="10" text-anchor="middle" fill="#1a1a1a">H5</text>
<text x="74.4" y="847.1" font-size="10" text-anchor="middle" fill="#1a1a1a">H7</text>
<text x="90.8" y="847.1" font-size="10" text-anchor="middle" fill="#1a1a1a">H10</text>
<text x="113.1" y="847.1" font-size="10" text-anchor="middle" fill="#1a1a1a">Z5</text>
<text x="127.6" y="847.1" font-size="10" text-anchor="middle" fill="#1a1a1a">Z7</text>
<text x="144.2" y="847.1" font-size="10" text-anchor="middle" fill="#1a1a1a">Z10</text>
<line x1="189.65" y1="793" x2="189.65" y2="791.9" stroke="#262626" stroke-width="1"/>
<line x1="187.15" y1="791.9" x2="192.15" y2="791.9" stroke="#262626" stroke-width="1"/>
<rect x="185.05" y="793.5" width="9.2" height="41.8" fill="#0f7a93" stroke="#1d2a30" stroke-width="1"/>
<text x="189.65" y="789.2" font-size="10" text-anchor="middle" fill="#1a1a1a">a</text>
<line x1="204.65" y1="822.1" x2="204.65" y2="821" stroke="#262626" stroke-width="1"/>
<line x1="202.15" y1="821" x2="207.15" y2="821" stroke="#262626" stroke-width="1"/>
<rect x="200.05" y="822.6" width="9.2" height="12.7" fill="#0f7a93" stroke="#1d2a30" stroke-width="1"/>
<text x="204.65" y="818.3" font-size="10" text-anchor="middle" fill="#1a1a1a">c</text>
<line x1="216.75" y1="801.7" x2="221.75" y2="801.7" stroke="#262626" stroke-width="1"/>
<rect x="214.65" y="802.5" width="9.2" height="32.8" fill="#0f7a93" stroke="#1d2a30" stroke-width="1"/>
<text x="219.25" y="799" font-size="10" text-anchor="middle" fill="#1a1a1a">b</text>
<line x1="243.35" y1="763.5" x2="243.35" y2="761.3" stroke="#262626" stroke-width="1"/>
<line x1="240.85" y1="761.3" x2="245.85" y2="761.3" stroke="#262626" stroke-width="1"/>
<rect x="238.75" y="764" width="9.2" height="71.3" fill="#00bd00" stroke="#1d2a30" stroke-width="1"/>
<text x="243.35" y="758.6" font-size="10" text-anchor="middle" fill="#1a1a1a">a</text>
<line x1="255.35" y1="825.2" x2="260.35" y2="825.2" stroke="#262626" stroke-width="1"/>
<rect x="253.25" y="825.9" width="9.2" height="9.4" fill="#00bd00" stroke="#1d2a30" stroke-width="1"/>
<text x="257.85" y="822.5" font-size="10" text-anchor="middle" fill="#1a1a1a">c</text>
<line x1="272.65" y1="799.6" x2="272.65" y2="794.3" stroke="#262626" stroke-width="1"/>
<line x1="270.15" y1="794.3" x2="275.15" y2="794.3" stroke="#262626" stroke-width="1"/>
<rect x="268.05" y="800.1" width="9.2" height="35.2" fill="#00bd00" stroke="#1d2a30" stroke-width="1"/>
<text x="272.65" y="791.6" font-size="10" text-anchor="middle" fill="#1a1a1a">b</text>
<line x1="231.45" y1="724.1" x2="231.45" y2="835.3" stroke="#2a2a2a" stroke-width="1" stroke-dasharray="2.3,1.2"/>
<line x1="177.65" y1="727.3" x2="177.65" y2="835.8" stroke="#262626" stroke-width="1.1"/>
<line x1="172.45" y1="835.3" x2="285.35" y2="835.3" stroke="#262626" stroke-width="1.1"/>
<text x="170.75" y="839.6" font-size="10" text-anchor="end" fill="#1a1a1a">0</text>
<line x1="172.45" y1="799.3" x2="177.65" y2="799.3" stroke="#262626" stroke-width="1.1"/>
<text x="170.75" y="803.6" font-size="10" text-anchor="end" fill="#1a1a1a">0.5</text>
<line x1="172.45" y1="763.3" x2="177.65" y2="763.3" stroke="#262626" stroke-width="1.1"/>
<text x="170.75" y="767.6" font-size="10" text-anchor="end" fill="#1a1a1a">1.0</text>
<line x1="172.45" y1="727.3" x2="177.65" y2="727.3" stroke="#262626" stroke-width="1.1"/>
<text x="170.75" y="731.6" font-size="10" text-anchor="end" fill="#1a1a1a">1.5</text>
<text x="233.65" y="718.7" font-size="10" font-style="italic" text-anchor="middle" fill="#1a1a1a">OsSPL16</text>
<text x="189.65" y="847.1" font-size="10" text-anchor="middle" fill="#1a1a1a">H5</text>
<text x="204.65" y="847.1" font-size="10" text-anchor="middle" fill="#1a1a1a">H7</text>
<text x="221.05" y="847.1" font-size="10" text-anchor="middle" fill="#1a1a1a">H10</text>
<text x="243.35" y="847.1" font-size="10" text-anchor="middle" fill="#1a1a1a">Z5</text>
<text x="257.85" y="847.1" font-size="10" text-anchor="middle" fill="#1a1a1a">Z7</text>
<text x="274.45" y="847.1" font-size="10" text-anchor="middle" fill="#1a1a1a">Z10</text>
</svg>
</body></html>
